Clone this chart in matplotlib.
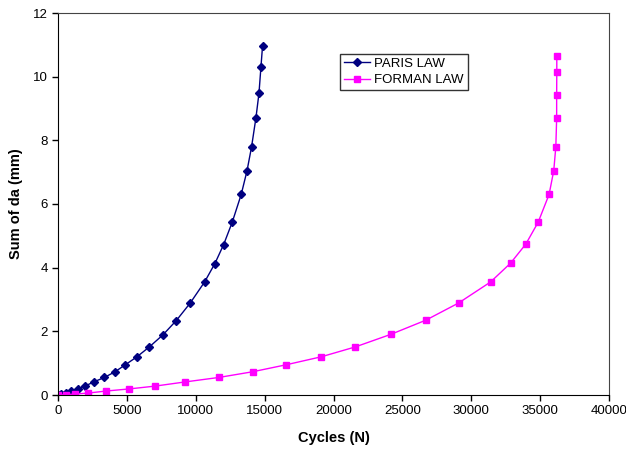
import matplotlib.pyplot as plt

plt.rcParams['font.family'] = ['Liberation Sans', 'DejaVu Sans']

# Paris law: cycles vs cumulative crack growth
paris_n = [0, 200, 560, 940, 1430, 1960, 2590, 3360, 4140, 4890, 5730, 6630,
           7620, 8590, 9600, 10640, 11390, 12020, 12650, 13300, 13720, 14050,
           14370, 14590, 14730, 14850]
paris_a = [0, 0.02, 0.05, 0.12, 0.18, 0.28, 0.41, 0.55, 0.73, 0.95, 1.20, 1.51,
           1.89, 2.34, 2.89, 3.55, 4.13, 4.72, 5.43, 6.30, 7.04, 7.79,
           8.71, 9.48, 10.29, 10.97]

# Forman law
forman_n = [0, 600, 1230, 2180, 3500, 5150, 7060, 9220, 11660, 14130, 16570,
            19110, 21580, 24190, 26700, 29080, 31400, 32850, 33960, 34860,
            35650, 35990, 36140, 36200, 36200, 36210, 36210]
forman_a = [0, 0.01, 0.03, 0.06, 0.125, 0.19, 0.28, 0.41, 0.55, 0.73, 0.95,
            1.20, 1.51, 1.91, 2.35, 2.89, 3.55, 4.14, 4.74, 5.43,
            6.30, 7.05, 7.80, 8.69, 9.41, 10.16, 10.65]

fig = plt.figure(figsize=(6.26, 4.51), dpi=100)
ax = fig.add_axes([58 / 626, 56 / 451, 551 / 626, 382 / 451])

ax.plot(paris_n, paris_a, color='#000080', marker='D', markersize=4,
        linewidth=1, label='PARIS LAW')
ax.plot(forman_n, forman_a, color='#ff00ff', marker='s', markersize=5,
        linewidth=1, label='FORMAN LAW')

ax.set_xlim(0, 40000)
ax.set_ylim(0, 12)
ax.set_xticks(range(0, 40001, 5000))
ax.set_yticks(range(0, 13, 2))
ax.tick_params(direction='out', length=4, labelsize=9.5, width=1)

for side in ['top', 'right']:
    ax.spines[side].set_color('#444444')
ax.spines['left'].set_color('black')
ax.spines['bottom'].set_color('black')

ax.set_xlabel('Cycles (N)', fontsize=10.5, fontweight='bold', labelpad=10)
ax.set_ylabel('Sum of da (mm)', fontsize=10.5, fontweight='bold', labelpad=7)

leg = ax.legend(loc='upper left', bbox_to_anchor=(0.512, 0.893), fontsize=9.5,
                frameon=True, fancybox=False, edgecolor='black',
                borderpad=0.3, handlelength=2.0, handletextpad=0.3,
                labelspacing=0.3, borderaxespad=0)
leg.get_frame().set_linewidth(1)

fig.savefig('out.png', dpi=100)
